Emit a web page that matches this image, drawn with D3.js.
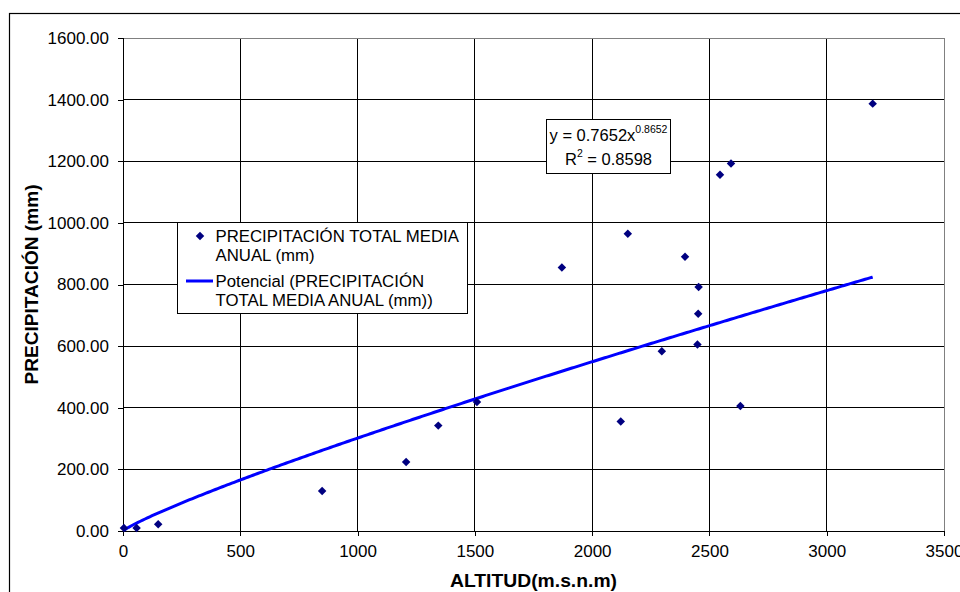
<!DOCTYPE html>
<html>
<head>
<meta charset="utf-8">
<script src="https://cdn.jsdelivr.net/npm/d3@7"></script>
<style>
  body { margin: 0; background: #fff; }
  svg { display: block; font-family: "Liberation Sans", Arial, sans-serif; }
</style>
</head>
<body>
<svg id="chart" width="960" height="592"></svg>
<script>
// ---- data ----
const altitud = [4, 58, 150, 849, 1207, 1344, 1509, 1871, 2122, 2152, 2297, 2396, 2449, 2452, 2454, 2545, 2592, 2632, 3196];
const precip  = [10, 10, 22, 130, 224, 342, 419, 855, 355, 965, 583, 890, 605, 705, 792, 1156, 1193, 406, 1387];
const xTicks = [0, 500, 1000, 1500, 2000, 2500, 3000, 3500];
const yTicks = [0, 200, 400, 600, 800, 1000, 1200, 1400, 1600];
const trendA = 0.7652, trendB = 0.8652;
const eqLabel = "y = 0.7652x", eqExp = "0.8652", r2Label = "0.8598";
const xTitle = "ALTITUD(m.s.n.m)";
const yTitle = "PRECIPITACIÓN (mm)";
const legendSeries = ["PRECIPITACIÓN TOTAL MEDIA", "ANUAL (mm)"];
const legendTrend = ["Potencial (PRECIPITACIÓN", "TOTAL MEDIA ANUAL (mm))"];

const svg = d3.select("#chart");
const W = 960, H = 592;
const m = {left: 123, top: 38, right: 16, bottom: 61};
const x = d3.scaleLinear().domain([0, 3500]).range([m.left, W - m.right]);
const y = d3.scaleLinear().domain([0, 1600]).range([H - m.bottom, m.top]);

// outer border
svg.append("rect").attr("x", 9.5).attr("y", 13.5).attr("width", 960).attr("height", 600)
  .attr("fill", "#fff").attr("stroke", "#000").attr("stroke-width", 1.2);

// grid
const g = svg.append("g").attr("shape-rendering", "crispEdges");
g.selectAll(".vg").data(xTicks.filter(d => d > 0 && d < 3500)).join("line")
  .attr("x1", d => x(d)).attr("x2", d => x(d)).attr("y1", y(0)).attr("y2", y(1600))
  .attr("stroke", "#000");
g.selectAll(".hg").data(yTicks.filter(d => d > 0 && d < 1600)).join("line")
  .attr("y1", d => y(d)).attr("y2", d => y(d)).attr("x1", x(0)).attr("x2", x(3500))
  .attr("stroke", "#000");
// plot border top/right (gray)
g.append("line").attr("x1", x(0)).attr("x2", x(3500)).attr("y1", y(1600)).attr("y2", y(1600)).attr("stroke", "#808080");
g.append("line").attr("x1", x(3500)).attr("x2", x(3500)).attr("y1", y(1600)).attr("y2", y(0)).attr("stroke", "#808080");

// axes
const xAxis = svg.append("g").attr("transform", `translate(0,${y(0)})`)
  .call(d3.axisBottom(x).tickValues(xTicks).tickFormat(d3.format("d")).tickSizeOuter(0).tickSize(5).tickPadding(9));
const yAxis = svg.append("g").attr("transform", `translate(${x(0)},0)`)
  .call(d3.axisLeft(y).tickValues(yTicks).tickFormat(d3.format(".2f")).tickSizeOuter(0).tickSize(5).tickPadding(9));
[xAxis, yAxis].forEach(a => {
  a.attr("shape-rendering", "crispEdges");
  a.select(".domain").attr("stroke", "#000");
  a.selectAll(".tick line").attr("stroke", "#000");
  a.selectAll("text").attr("font-size", 17).attr("fill", "#000").attr("font-family", "Liberation Sans, Arial, sans-serif");
});

// axis titles
svg.append("text").attr("x", (x(0) + x(3500)) / 2).attr("y", 587).attr("text-anchor", "middle")
  .attr("font-size", 18.5).attr("font-weight", "bold").attr("textLength", 167).attr("lengthAdjust", "spacingAndGlyphs").text(xTitle);
svg.append("text").attr("transform", `translate(38,${(y(0) + y(1600)) / 2}) rotate(-90)`)
  .attr("text-anchor", "middle").attr("font-size", 18.5).attr("font-weight", "bold")
  .attr("textLength", 200).attr("lengthAdjust", "spacingAndGlyphs").text(yTitle);

// trend line (power fit shown on chart)
const xmin = d3.min(altitud), xmax = d3.max(altitud);
const trendX = d3.range(xmin, xmax, 10).concat([xmax]);
svg.append("path").datum(trendX)
  .attr("d", d3.line().x(d => x(d)).y(d => y(trendA * Math.pow(d, trendB))))
  .attr("fill", "none").attr("stroke", "#0000ff").attr("stroke-width", 3);

// points
const diamond = d3.symbol().type(d3.symbolSquare).size(36);
svg.selectAll(".pt").data(altitud.map((d, i) => [d, precip[i]])).join("path")
  .attr("d", diamond)
  .attr("transform", d => `translate(${x(d[0])},${y(d[1])}) rotate(45)`)
  .attr("fill", "#000080");

// equation box
const eq = svg.append("g");
eq.append("rect").attr("x", 546.5).attr("y", 119.5).attr("width", 124).attr("height", 54)
  .attr("fill", "#fff").attr("stroke", "#000");
const t1 = eq.append("text").attr("x", 608.5).attr("y", 141).attr("text-anchor", "middle").attr("font-size", 16.5);
t1.append("tspan").text(eqLabel);
t1.append("tspan").attr("font-size", 10.5).attr("dy", -8).text(eqExp);
const t2 = eq.append("text").attr("x", 608.5).attr("y", 165).attr("text-anchor", "middle").attr("font-size", 16.5);
t2.append("tspan").text("R");
t2.append("tspan").attr("font-size", 10.5).attr("dy", -8).text("2");
t2.append("tspan").attr("dy", 8).text(" = " + r2Label);

// legend
const lg = svg.append("g");
lg.append("rect").attr("x", 177.5).attr("y", 222.5).attr("width", 290).attr("height", 91)
  .attr("fill", "#fff").attr("stroke", "#000");
lg.append("path").attr("d", diamond).attr("transform", "translate(200,236) rotate(45)").attr("fill", "#000080");
lg.append("line").attr("x1", 186).attr("x2", 213).attr("y1", 281).attr("y2", 281)
  .attr("stroke", "#0000ff").attr("stroke-width", 3);
legendSeries.forEach((s, i) => lg.append("text").attr("x", 215.5).attr("y", 242 + i * 18.5).attr("font-size", 16.8).text(s));
legendTrend.forEach((s, i) => lg.append("text").attr("x", 215.5).attr("y", 287 + i * 18.5).attr("font-size", 16.8).text(s));
</script>
</body>
</html>
